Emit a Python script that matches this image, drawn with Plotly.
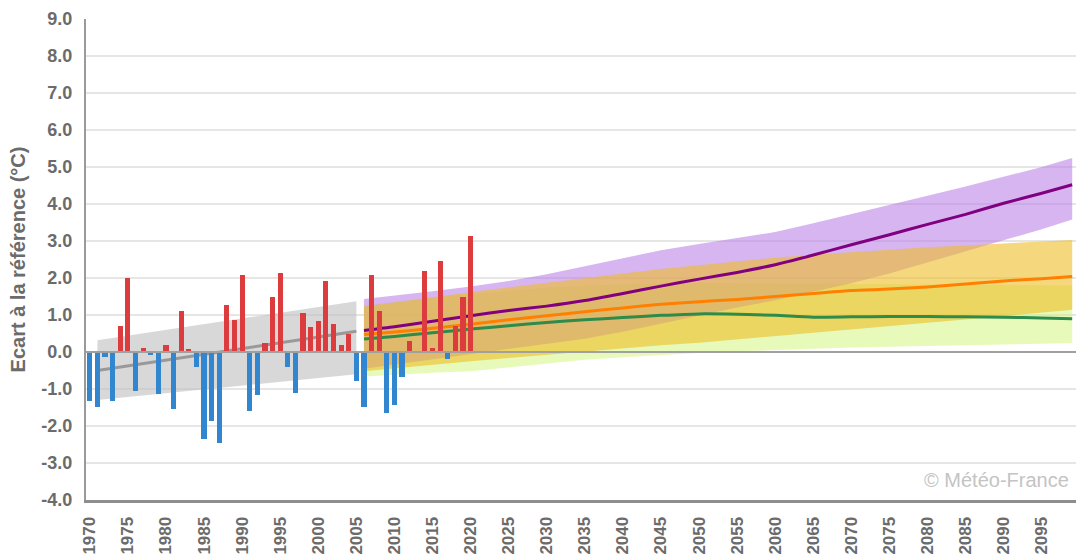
import plotly.graph_objects as go

# ---- Data ----
obs_years = list(range(1970, 2021))
obs_values = [-1.33, -1.49, -0.14, -1.33, 0.71, 2.00, -1.06, 0.12, -0.08, -1.14,
              0.18, -1.53, 1.11, 0.09, -0.40, -2.34, -1.86, -2.45, 1.26, 0.86,
              2.08, -1.59, -1.16, 0.23, 1.49, 2.14, -0.40, -1.10, 1.06, 0.68,
              0.84, 1.92, 0.77, 0.18, 0.50, -0.78, -1.48, 2.08, 1.11, -1.64,
              -1.43, -0.67, 0.30, 0.00, 2.18, 0.11, 2.46, -0.18, 0.70, 1.48,
              3.14]

hist_years = [1971, 2005]
hist_trend = [-0.50, 0.56]
hist_upper = [0.32, 1.37]
hist_lower = [-1.30, -0.60]

proj_years = [2006, 2010, 2015, 2020, 2025, 2030, 2035, 2040, 2045, 2050,
              2055, 2060, 2065, 2070, 2075, 2080, 2085, 2090, 2095, 2099]

rcp85_mean = [0.58, 0.68, 0.83, 0.98, 1.12, 1.24, 1.39, 1.58, 1.78, 1.97,
              2.15, 2.36, 2.62, 2.90, 3.17, 3.45, 3.72, 4.02, 4.29, 4.52]
rcp85_upper = [1.43, 1.52, 1.64, 1.77, 1.92, 2.10, 2.32, 2.54, 2.75, 2.92,
               3.08, 3.24, 3.48, 3.72, 3.96, 4.22, 4.47, 4.74, 5.00, 5.24]
rcp85_lower = [-0.45, -0.35, -0.20, -0.05, 0.08, 0.22, 0.36, 0.55, 0.76, 0.98,
               1.20, 1.40, 1.62, 1.86, 2.12, 2.40, 2.70, 3.02, 3.32, 3.58]

rcp45_mean = [0.47, 0.54, 0.64, 0.75, 0.87, 0.98, 1.09, 1.19, 1.29, 1.36,
              1.42, 1.50, 1.58, 1.66, 1.70, 1.76, 1.84, 1.92, 1.98, 2.04]
rcp45_upper = [1.23, 1.35, 1.48, 1.62, 1.75, 1.88, 2.00, 2.12, 2.24, 2.35,
               2.45, 2.55, 2.63, 2.70, 2.77, 2.83, 2.88, 2.93, 2.98, 3.03]
rcp45_lower = [-0.52, -0.44, -0.34, -0.25, -0.16, -0.07, 0.02, 0.10, 0.18, 0.25,
               0.33, 0.41, 0.51, 0.60, 0.70, 0.79, 0.88, 0.97, 1.06, 1.14]

rcp26_mean = [0.35, 0.42, 0.52, 0.62, 0.71, 0.80, 0.87, 0.93, 0.99, 1.03,
              1.02, 0.99, 0.94, 0.95, 0.96, 0.96, 0.95, 0.94, 0.92, 0.90]
rcp26_upper = [1.25, 1.35, 1.47, 1.57, 1.66, 1.74, 1.80, 1.84, 1.86, 1.87,
               1.87, 1.86, 1.85, 1.84, 1.83, 1.82, 1.82, 1.81, 1.81, 1.80]
rcp26_lower = [-0.66, -0.62, -0.56, -0.52, -0.42, -0.31, -0.21, -0.14, -0.08, -0.03,
               0.02, 0.06, 0.09, 0.12, 0.14, 0.16, 0.18, 0.20, 0.22, 0.24]

x_ticks = list(range(1970, 2100, 5))
y_ticks = list(range(-4, 10))

# ---- Styles ----
GRAY_TXT = "#6b6b6b"
FONT = "Liberation Sans, Arial, sans-serif"


def band(xs, up, lo, color):
    return go.Scatter(x=xs + xs[::-1], y=up + lo[::-1], fill="toself",
                      fillcolor=color, line=dict(width=0), mode="lines",
                      hoverinfo="skip", showlegend=False)


fig = go.Figure()
fig.add_trace(band(proj_years, rcp26_upper, rcp26_lower, "rgba(205,245,110,0.48)"))
fig.add_trace(band(proj_years, rcp85_upper, rcp85_lower, "rgba(180,120,230,0.55)"))
fig.add_trace(band(proj_years, rcp45_upper, rcp45_lower, "rgba(238,190,40,0.60)"))
fig.add_trace(band(hist_years, hist_upper, hist_lower, "rgba(190,190,190,0.6)"))

fig.add_trace(go.Scatter(x=hist_years, y=hist_trend, mode="lines",
                         line=dict(color="#999999", width=3), showlegend=False))
fig.add_trace(go.Scatter(x=proj_years, y=rcp26_mean, mode="lines",
                         line=dict(color="#2e8b4a", width=3, shape="spline", smoothing=0.6),
                         showlegend=False))
fig.add_trace(go.Scatter(x=proj_years, y=rcp45_mean, mode="lines",
                         line=dict(color="#ff8000", width=3, shape="spline", smoothing=0.6),
                         showlegend=False))
fig.add_trace(go.Scatter(x=proj_years, y=rcp85_mean, mode="lines",
                         line=dict(color="#800080", width=3, shape="spline", smoothing=0.6),
                         showlegend=False))

bar_colors = ["#dd3c3e" if v >= 0 else "#3286cf" for v in obs_values]
fig.add_trace(go.Bar(x=obs_years, y=obs_values, marker=dict(color=bar_colors, line=dict(width=0)),
                     width=0.68, xaxis="x2", yaxis="y2", showlegend=False))

xr = [1969.5, 2099.5]
yr = [-4, 9]

fig.update_layout(
    width=1076, height=558,
    margin=dict(l=86, r=0, t=19, b=58),
    paper_bgcolor="white", plot_bgcolor="white",
    font=dict(family=FONT, color=GRAY_TXT),
    xaxis=dict(range=xr, tickmode="array", tickvals=x_ticks,
               ticktext=[str(v) for v in x_ticks], tickangle=-90,
               tickfont=dict(size=17, family=FONT, color=GRAY_TXT, weight="bold"),
               showgrid=False, zeroline=False, showline=True, automargin=False,
               linecolor="#8e8e8e", linewidth=3,
               ticks="outside", ticklen=7, tickcolor="rgba(0,0,0,0)", fixedrange=True),
    yaxis=dict(range=yr, tickmode="array", tickvals=y_ticks,
               ticktext=[f"{v:.1f}" for v in y_ticks], automargin=False,
               tickfont=dict(size=18, family=FONT, color=GRAY_TXT, weight="bold"),
               showgrid=True, gridcolor="#e6e6e6", gridwidth=2,
               zeroline=False, showline=True, linecolor="#9a9a9a", linewidth=2,
               ticks="outside", ticklen=8, tickcolor="rgba(0,0,0,0)",
               title=dict(text="Ecart à la référence (°C)", standoff=10,
                          font=dict(size=20, family=FONT, color=GRAY_TXT, weight="bold"))),
    xaxis2=dict(range=xr, overlaying="x", visible=False, fixedrange=True),
    yaxis2=dict(range=yr, overlaying="y", visible=False, fixedrange=True),
    bargap=0,
    shapes=[dict(type="line", xref="paper", yref="y", x0=0, x1=1, y0=0, y1=0,
                 line=dict(color="#a0a0a0", width=2), layer="above")],
    annotations=[dict(text="© Météo-France", xref="paper", yref="paper",
                      x=0.995, y=0.042, xanchor="right", yanchor="middle",
                      showarrow=False,
                      font=dict(size=20, family=FONT, color="#c4c4c4"))],
)

fig.write_html("out.html", config={"displayModeBar": False},
               post_script="document.body.style.margin='0';document.body.style.overflow='hidden';")
